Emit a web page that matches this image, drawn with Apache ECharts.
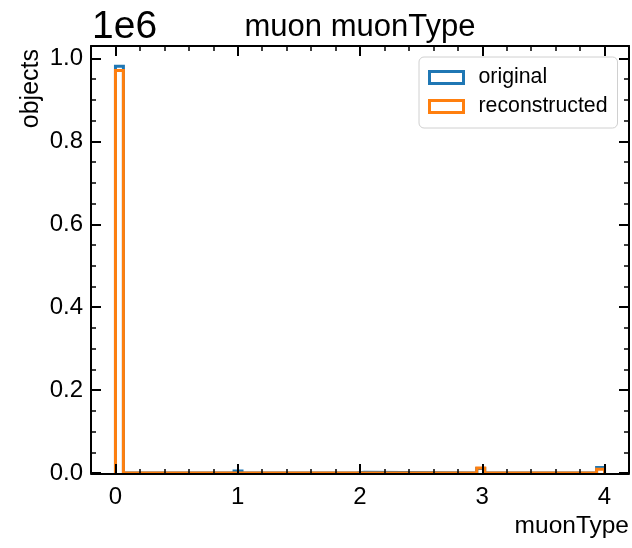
<!DOCTYPE html>
<html>
<head>
<meta charset="utf-8">
<script src="https://cdn.jsdelivr.net/npm/echarts@6/dist/echarts.min.js"></script>
<style>
html,body{margin:0;padding:0;background:#fff;}
#chart{width:632px;height:548px;}
</style>
</head>
<body>
<div id="chart"></div>
<script>
// ---- data ----
var categories = [0, 1, 2, 3, 4];                   // muonType values
var binStart = [0, 0.97, 1.97, 2.955, 3.935];       // left edge of the bin holding each value
var binWidth = 0.065;
var histRange = [0, 4];
var original = [981000, 5000, 2000, 11000, 13000];
var reconstructed = [971000, 0, 0, 12000, 9000];
var xTickLabels = [0, 1, 2, 3, 4];
var yTickValues = [0, 200000, 400000, 600000, 800000, 1000000];

var FONT = '"Liberation Sans", Arial, Helvetica, sans-serif';

function stepPath(counts) {
  var pts = [[histRange[0], 0]];
  for (var i = 0; i < counts.length; i++) {
    var a = binStart[i], b = binStart[i] + binWidth;
    pts.push([a, 0]); pts.push([a, counts[i]]);
    pts.push([b, counts[i]]); pts.push([b, 0]);
  }
  pts.push([histRange[1], 0]);
  return pts;
}

var xMinor = [];
for (var k = -1; k <= 4; k++) for (var j = 1; j <= 4; j++) {
  var v = +(k + j * 0.2).toFixed(2);
  if (v > -0.2 && v < 4.2) xMinor.push(v);
}
var yMinor = [];
for (var m = 0; m < 21; m++) {
  var yv = m * 50000;
  if (m % 4 !== 0 && yv < 1030000) yMinor.push(yv);
}

var X_MIN = -0.2, X_MAX = 4.2, Y_MAX = 1030000;

function xAx(pos, ticks, len, w, showLine, showLabel, offset) {
  return {
    type: 'value', position: pos, min: X_MIN, max: X_MAX, offset: offset || 0, z: 5,
    axisLine: {show: showLine, onZero: false, lineStyle: {color: '#000', width: 2}},
    axisTick: {show: true, inside: true, length: len, customValues: ticks, lineStyle: {color: '#000', width: w}},
    axisLabel: showLabel ? {show: true, customValues: xTickLabels, margin: 11, color: '#000', fontSize: 24, fontFamily: FONT, formatter: function (v) { return String(v); }} : {show: false},
    splitLine: {show: false}, minorTick: {show: false}
  };
}
function yAx(pos, ticks, len, w, showLine, showLabel) {
  return {
    type: 'value', position: pos, min: 0, max: Y_MAX, z: 5,
    axisLine: {show: showLine, onZero: false, lineStyle: {color: '#000', width: 2}},
    axisTick: {show: true, inside: true, length: len, customValues: ticks, lineStyle: {color: '#000', width: w}},
    axisLabel: showLabel ? {show: true, customValues: yTickValues, margin: 8, color: '#000', fontSize: 24, fontFamily: FONT, formatter: function (v) { return (v / 1e6).toFixed(1); }} : {show: false},
    splitLine: {show: false}, minorTick: {show: false}
  };
}

var chart = echarts.init(document.getElementById('chart'), null, {renderer: 'canvas'});
chart.setOption({
  animation: false,
  backgroundColor: '#fff',
  grid: {left: 91, right: 3, top: 46, bottom: 75, containLabel: false},
  xAxis: [
    xAx('bottom', xTickLabels, 10, 2, true, true, 1),
    xAx('bottom', xMinor, 5, 1.5, false, false, 1),
    xAx('top', xTickLabels, 10, 2, true, false),
    xAx('top', xMinor, 5, 1.5, false, false)
  ],
  yAxis: [
    yAx('left', yTickValues, 10, 2, true, true),
    yAx('left', yMinor, 5, 1.5, false, false),
    yAx('right', yTickValues, 10, 2, true, false),
    yAx('right', yMinor, 5, 1.5, false, false)
  ],
  legend: {
    orient: 'vertical', left: 419, top: 57,
    padding: [10, 10, 11, 9], itemGap: 8,
    itemWidth: 34, itemHeight: 12,
    borderColor: '#d0d0d0', borderWidth: 1, borderRadius: 5,
    backgroundColor: 'rgba(255,255,255,0.8)',
    textStyle: {fontSize: 21.3, fontFamily: FONT, color: '#000', lineHeight: 21, padding: [0, 0, 0, 10]},
    data: [
      {name: 'original', icon: 'rect', itemStyle: {color: 'rgba(0,0,0,0)', borderColor: '#1f77b4', borderWidth: 3}},
      {name: 'reconstructed', icon: 'rect', itemStyle: {color: 'rgba(0,0,0,0)', borderColor: '#ff7f0e', borderWidth: 3}}
    ]
  },
  series: [
    {name: 'original', type: 'line', xAxisIndex: 0, yAxisIndex: 0, data: stepPath(original),
     symbol: 'none', lineStyle: {color: '#1f77b4', width: 3, join: 'miter'}, itemStyle: {color: '#1f77b4'}, z: 2},
    {name: 'reconstructed', type: 'line', xAxisIndex: 0, yAxisIndex: 0, data: stepPath(reconstructed),
     symbol: 'none', lineStyle: {color: '#ff7f0e', width: 3, join: 'miter'}, itemStyle: {color: '#ff7f0e'}, z: 3}
  ],
  graphic: [
    {type: 'text', x: 360, y: 27, style: {text: 'muon muonType', fontSize: 31, fontFamily: FONT, fill: '#000', textAlign: 'center', textVerticalAlign: 'middle'}},
    {type: 'text', x: 92, y: 27, style: {text: '1e6', fontSize: 39, fontFamily: FONT, fill: '#000', textAlign: 'left', textVerticalAlign: 'middle'}},
    {type: 'text', x: 629, y: 526, style: {text: 'muonType', fontSize: 24.5, fontFamily: FONT, fill: '#000', textAlign: 'right', textVerticalAlign: 'middle'}},
    {type: 'text', x: 31, y: 49, rotation: Math.PI / 2, style: {text: 'objects', fontSize: 25, fontFamily: FONT, fill: '#000', textAlign: 'right', textVerticalAlign: 'middle'}}
  ]
});
</script>
</body>
</html>
